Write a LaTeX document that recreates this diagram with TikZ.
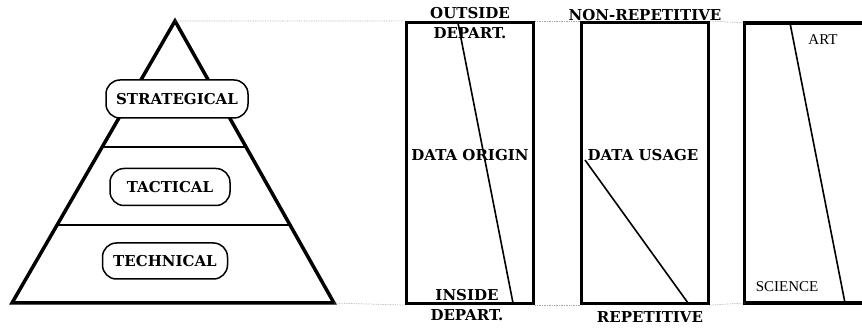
\documentclass[tikz,border=0pt]{standalone}
\usepackage{fontspec}
\setmainfont{DejaVu Serif}
\newfontfamily\thinfont{Liberation Serif}
\begin{document}
\begin{tikzpicture}[x=1pt,y=-1pt,
  thick line/.style={line width=3.5pt},
  diag/.style={line width=1.6pt},
  level/.style={draw, line width=1.5pt, fill=white, rounded corners=14pt, inner sep=0pt,
    font=\fontsize{15}{15}\selectfont\bfseries},
  lbl/.style={inner sep=0pt, font=\fontsize{15}{15}\selectfont\bfseries},
  thin lbl/.style={inner sep=0pt, font=\thinfont\fontsize{15}{15}\selectfont},
  col/.style={draw, line width=3.2pt, minimum width=127pt, minimum height=281pt, inner sep=0pt},
  guide/.style={densely dotted, line width=0.7pt, gray!70}]
\useasboundingbox (0,0) rectangle (862,328);
% pyramid
\coordinate (apex) at (175,21);
\coordinate (bl) at (12,303);
\coordinate (br) at (334,303);
\draw[thick line, line join=miter] (apex) -- (bl) -- (br) -- cycle;
\coordinate (l1a) at (102.2,147);
\coordinate (l1b) at (246,147);
\coordinate (l2a) at (57.1,225);
\coordinate (l2b) at (290,225);
\draw[line width=2.8pt] (l1a) -- (l1b);
\draw[line width=2.8pt] (l2a) -- (l2b);
\node[level, minimum width=142pt, minimum height=38pt] (strat) at (177,99) {STRATEGICAL};
\node[level, minimum width=120pt, minimum height=37pt] (tact) at (170,187) {TACTICAL};
\node[level, minimum width=125pt, minimum height=36pt] (tech) at (165,261) {TECHNICAL};
% columns
\node[col] (c1) at (470,163) {};
\node[col] (c2) at (645,163) {};
\draw[line width=3.2pt] (870,23) -- (744.5,23) -- (744.5,303) -- (870,303);
\coordinate (c3nw) at (744.5,23);
\coordinate (c3sw) at (744.5,303);
% diagonals
\coordinate (d1a) at (458,23);
\coordinate (d1b) at (513,303);
\draw[diag] (d1a) -- (d1b);
\coordinate (d2a) at (585,160);
\coordinate (d2b) at (688,303);
\draw[diag] (d2a) -- (d2b);
\coordinate (d3a) at (790,23);
\coordinate (d3b) at (845,303);
\draw[diag] (d3a) -- (d3b);
% guides
\draw[guide] (apex) -- (c1.north west);
\draw[guide] (c1.north east) -- (c2.north west);
\draw[guide] (c2.north east) -- (c3nw);
\draw[guide] (br) -- (c1.south west);
\draw[guide] (c1.south east) -- (c2.south west);
\draw[guide] (c2.south east) -- (c3sw);
% labels
\node[lbl] (out) at (470,13) {OUTSIDE};
\node[lbl] (outd) at (470,33) {DEPART.};
\node[lbl] (orig) at (470,155) {DATA ORIGIN};
\node[lbl] (ins) at (467,295) {INSIDE};
\node[lbl] (insd) at (467,315) {DEPART.};
\node[lbl] (nonrep) at (645,15) {NON-REPETITIVE};
\node[lbl] (usage) at (643,155) {DATA USAGE};
\node[lbl] (rep) at (650,317) {REPETITIVE};
\node[thin lbl] (art) at (823,40) {ART};
\node[thin lbl] (sci) at (787,287) {SCIENCE};
\end{tikzpicture}
\end{document}
